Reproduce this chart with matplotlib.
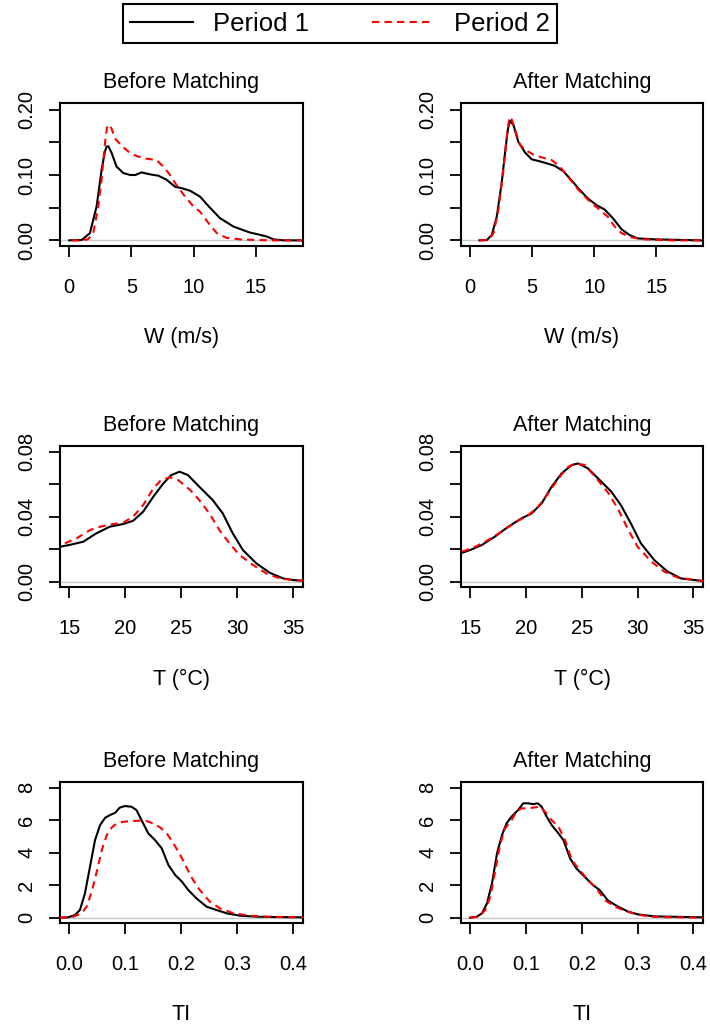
import numpy as np
import matplotlib.pyplot as plt
from matplotlib.lines import Line2D

plt.rcParams['font.family'] = ['Liberation Sans', 'DejaVu Sans']

W_PX, H_PX = 710, 1028

# ---- W (m/s) densities ----
w_bef_x1 = [0.0, 1.0, 1.66, 2.2, 2.6, 2.87, 3.0, 3.15, 3.4, 3.8, 4.34, 4.9, 5.3, 5.8, 6.5, 7.15,
            7.8, 8.5, 9.0, 9.7, 10.5, 11.2, 12.1, 13.2, 14.5, 15.2, 15.9, 16.4, 17.2, 18.7]
w_bef_y1 = [0.0, 0.0005, 0.011, 0.052, 0.108, 0.136, 0.1435, 0.144, 0.134, 0.113, 0.103, 0.100,
            0.100, 0.104, 0.101, 0.099, 0.093, 0.082, 0.080, 0.076, 0.067, 0.052, 0.034, 0.021,
            0.012, 0.009, 0.0056, 0.0015, 0.0, 0.0]
w_bef_x2 = [0.19, 0.86, 1.5, 1.93, 2.33, 2.6, 2.87, 3.05, 3.2, 3.4, 3.67, 4.2, 4.74, 5.4, 6.2,
            7.0, 7.55, 8.1, 8.6, 9.3, 9.97, 10.5, 11.2, 11.85, 12.6, 13.7, 15.05, 16.4, 18.7]
w_bef_y2 = [0.0, 0.0, 0.0015, 0.011, 0.052, 0.093, 0.149, 0.175, 0.177, 0.171, 0.156, 0.145,
            0.136, 0.129, 0.125, 0.123, 0.113, 0.100, 0.085, 0.067, 0.052, 0.044, 0.026, 0.011,
            0.004, 0.0015, 0.0005, 0.0, 0.0]
w_aft_x1 = [0.75, 1.34, 1.74, 2.14, 2.54, 2.81, 3.03, 3.2, 3.48, 3.88, 4.42, 4.96, 5.6, 6.16,
            6.83, 7.5, 8.17, 8.84, 9.5, 10.18, 10.85, 11.5, 12.2, 12.86, 13.5, 14.9, 18.6]
w_aft_y1 = [0.0, 0.0005, 0.008, 0.036, 0.088, 0.134, 0.169, 0.183, 0.177, 0.151, 0.1345, 0.124,
            0.121, 0.118, 0.114, 0.106, 0.092, 0.077, 0.064, 0.054, 0.047, 0.034, 0.017, 0.008,
            0.003, 0.0015, 0.0]
w_aft_x2 = [0.75, 1.47, 1.88, 2.28, 2.68, 2.95, 3.16, 3.35, 3.62, 4.02, 4.42, 5.09, 5.76, 6.56,
            7.23, 7.9, 8.7, 9.5, 10.3, 11.1, 11.65, 12.2, 13.0, 14.06, 16.2, 18.6]
w_aft_y2 = [0.0, 0.0005, 0.011, 0.047, 0.108, 0.159, 0.189, 0.185, 0.169, 0.146, 0.139, 0.131,
            0.127, 0.123, 0.113, 0.097, 0.078, 0.062, 0.049, 0.036, 0.021, 0.011, 0.0046, 0.0015,
            0.0, 0.0]

# ---- T (degC) densities ----
t_bef_x1 = [14.17, 15.0, 16.25, 17.4, 18.6, 19.8, 20.7, 21.6, 22.5, 23.4, 24.1, 24.85, 25.6,
            26.6, 27.8, 28.7, 29.6, 30.5, 31.7, 32.9, 34.1, 35.0, 35.87]
t_bef_y1 = [0.0215, 0.0226, 0.0246, 0.0297, 0.0338, 0.0355, 0.0375, 0.0431, 0.0523, 0.0605,
            0.0656, 0.0677, 0.0656, 0.0585, 0.0503, 0.0421, 0.0297, 0.0195, 0.0113, 0.0055,
            0.002, 0.001, 0.0006]
t_bef_x2 = [14.6, 15.65, 16.85, 17.74, 18.9, 19.8, 20.7, 21.6, 22.5, 23.2, 24.0, 24.7, 25.8,
            26.6, 27.5, 28.4, 29.3, 30.2, 31.4, 32.6, 33.8, 35.0, 35.87]
t_bef_y2 = [0.0236, 0.0267, 0.0318, 0.0338, 0.0355, 0.0363, 0.040, 0.0472, 0.0574, 0.0626,
            0.0642, 0.0626, 0.0564, 0.0503, 0.0421, 0.0318, 0.0236, 0.0164, 0.0103, 0.0051,
            0.002, 0.001, 0.0006]
t_aft_x1 = [14.26, 15.0, 16.04, 17.2, 18.4, 19.6, 20.5, 21.4, 22.3, 23.2, 24.1, 24.67, 25.56,
            26.6, 27.65, 28.5, 29.4, 30.3, 31.5, 32.7, 33.9, 35.87]
t_aft_y1 = [0.0178, 0.0195, 0.0226, 0.0277, 0.0338, 0.039, 0.042, 0.0482, 0.0585, 0.0667,
            0.0718, 0.0728, 0.0697, 0.0626, 0.0554, 0.0472, 0.0359, 0.0236, 0.0133, 0.0062,
            0.002, 0.0004]
t_aft_x2 = [14.26, 15.45, 16.6, 17.8, 19.0, 20.2, 21.1, 22.0, 22.9, 23.8, 24.5, 25.27, 26.2,
            27.4, 28.3, 29.1, 30.0, 31.25, 32.4, 33.6, 35.87]
t_aft_y2 = [0.0185, 0.0215, 0.0256, 0.0308, 0.0363, 0.041, 0.0462, 0.0544, 0.0636, 0.0708,
            0.0728, 0.0718, 0.0646, 0.0544, 0.0441, 0.0328, 0.0215, 0.0123, 0.0062, 0.0025,
            0.0004]

# ---- TI densities ----
ti_bef_x1 = [-0.017, -0.002, 0.010, 0.019, 0.028, 0.037, 0.046, 0.055, 0.064, 0.073, 0.082,
             0.090, 0.099, 0.111, 0.120, 0.129, 0.141, 0.153, 0.165, 0.177, 0.189, 0.201,
             0.2125, 0.227, 0.245, 0.263, 0.281, 0.305, 0.335, 0.364, 0.417]
ti_bef_y1 = [0.0, 0.02, 0.16, 0.47, 1.5, 3.14, 4.78, 5.7, 6.15, 6.32, 6.46, 6.77, 6.87, 6.83,
             6.62, 6.0, 5.19, 4.78, 4.27, 3.24, 2.63, 2.22, 1.7, 1.19, 0.68, 0.47, 0.27, 0.12,
             0.06, 0.04, 0.02]
ti_bef_x2 = [-0.017, 0.007, 0.022, 0.031, 0.040, 0.049, 0.058, 0.067, 0.076, 0.085, 0.096,
             0.111, 0.126, 0.138, 0.150, 0.162, 0.174, 0.186, 0.198, 0.210, 0.221, 0.233,
             0.251, 0.269, 0.293, 0.323, 0.352, 0.417]
ti_bef_y2 = [0.0, 0.06, 0.27, 0.68, 1.6, 2.83, 4.16, 5.09, 5.56, 5.8, 5.9, 5.95, 5.97, 5.95,
             5.8, 5.56, 5.19, 4.57, 3.86, 3.04, 2.32, 1.7, 0.98, 0.57, 0.27, 0.12, 0.06, 0.02]
ti_aft_x1 = [0.0, 0.012, 0.021, 0.030, 0.039, 0.048, 0.057, 0.065, 0.074, 0.086, 0.095, 0.104,
             0.113, 0.121, 0.128, 0.137, 0.146, 0.158, 0.167, 0.179, 0.190, 0.205, 0.220,
             0.232, 0.247, 0.265, 0.283, 0.301, 0.330, 0.417]
ti_aft_y1 = [0.0, 0.06, 0.27, 0.88, 2.11, 3.96, 5.09, 5.8, 6.22, 6.63, 7.04, 7.04, 6.99, 7.04,
             6.83, 6.22, 5.7, 5.19, 4.78, 3.65, 3.04, 2.52, 2.01, 1.7, 1.05, 0.68, 0.37, 0.2,
             0.08, 0.02]
ti_aft_x2 = [0.0, 0.015, 0.027, 0.036, 0.045, 0.054, 0.0625, 0.074, 0.083, 0.092, 0.104, 0.116,
             0.125, 0.134, 0.146, 0.158, 0.170, 0.182, 0.196, 0.211, 0.226, 0.241, 0.259,
             0.277, 0.298, 0.324, 0.360, 0.417]
ti_aft_y2 = [0.0, 0.06, 0.47, 1.29, 2.93, 4.57, 5.5, 6.0, 6.53, 6.73, 6.73, 6.79, 6.83, 6.53,
             6.0, 5.6, 4.78, 3.55, 2.93, 2.32, 1.8, 1.09, 0.68, 0.43, 0.2, 0.06, 0.02, 0.0]

# axis settings per variable
var_labels = ['W (m/s)', 'T (\u00b0C)', 'TI']
x_limits = [(-0.74, 18.77), (14.17, 35.87), (-0.0166, 0.4173)]
y_limits = [(-0.0082, 0.2098), (-0.00345, 0.0837), (-0.31, 8.37)]
x_ticks = [[0, 5, 10, 15], [15, 20, 25, 30, 35], [0.0, 0.1, 0.2, 0.3, 0.4]]
x_ticklabels = [['0', '5', '10', '15'], ['15', '20', '25', '30', '35'],
                ['0.0', '0.1', '0.2', '0.3', '0.4']]
y_ticks = [[0, 0.05, 0.10, 0.15, 0.20], [0, 0.02, 0.04, 0.06, 0.08], [0, 2, 4, 6, 8]]
y_ticklabels = [['0.00', '', '0.10', '', '0.20'], ['0.00', '', '0.04', '', '0.08'],
                ['0', '2', '4', '6', '8']]
col_titles = ['Before Matching', 'After Matching']

# panel boxes in pixels: (left, right), (top, bottom)
col_px = [(60, 303), (461, 703)]
row_px = [(103.3, 245.7), (445.7, 587.3), (781.7, 922.7)]

curves = [
    [(w_bef_x1, w_bef_y1, w_bef_x2, w_bef_y2), (w_aft_x1, w_aft_y1, w_aft_x2, w_aft_y2)],
    [(t_bef_x1, t_bef_y1, t_bef_x2, t_bef_y2), (t_aft_x1, t_aft_y1, t_aft_x2, t_aft_y2)],
    [(ti_bef_x1, ti_bef_y1, ti_bef_x2, ti_bef_y2), (ti_aft_x1, ti_aft_y1, ti_aft_x2, ti_aft_y2)],
]

fig = plt.figure(figsize=(W_PX / 100, H_PX / 100), dpi=100)

dash = (0, (3.5, 2.5))

for r in range(3):
    for c in range(2):
        (l, rr), (t, b) = col_px[c], row_px[r]
        ax = fig.add_axes([l / W_PX, 1 - b / H_PX, (rr - l) / W_PX, (b - t) / H_PX])
        x1, y1, x2, y2 = curves[r][c]
        ax.axhline(0, color='#c8c8c8', lw=1.0, zorder=1)
        ax.plot(x1, y1, color='black', lw=1.5, zorder=3, solid_joinstyle='round')
        ax.plot(x2, y2, color='red', lw=1.5, ls=dash, zorder=4)
        ax.set_xlim(*x_limits[r])
        ax.set_ylim(*y_limits[r])
        ax.set_xticks(x_ticks[r])
        ax.set_xticklabels(x_ticklabels[r])
        ax.set_yticks(y_ticks[r])
        ax.set_yticklabels(y_ticklabels[r], rotation=90, va='center')
        ax.tick_params(direction='out', length=8, width=1.3, labelsize=14.5, colors='black')
        ax.tick_params(axis='x', pad=15)
        ax.tick_params(axis='y', pad=9)
        for s in ax.spines.values():
            s.set_linewidth(1.5)
        ax.set_title(col_titles[c], fontsize=15.5, pad=10.8)
        ax.set_xlabel(var_labels[r], fontsize=15.5, labelpad=22)

handles = [Line2D([], [], color='black', lw=1.5),
           Line2D([], [], color='red', lw=1.5, ls=dash)]
leg = fig.legend(handles, ['Period 1', 'Period 2'], ncol=2, loc='upper center',
                 bbox_to_anchor=(340 / W_PX, 1 - 4 / H_PX), fontsize=18.5,
                 frameon=True, fancybox=False, edgecolor='black', framealpha=1,
                 borderpad=0.3, handlelength=2.45, handletextpad=0.75,
                 columnspacing=2.45, borderaxespad=0)
leg.get_frame().set_linewidth(1.5)

fig.savefig('out.png', dpi=100, facecolor='white')
